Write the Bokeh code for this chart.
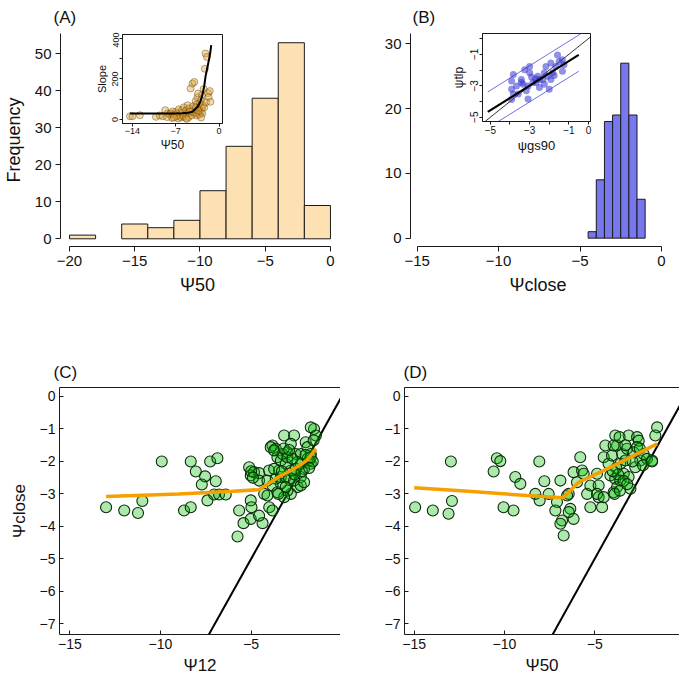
from bokeh.plotting import figure
from bokeh.layouts import column, row
from bokeh.models import FixedTicker, Range1d, LinearAxis
from bokeh.embed import file_html
from bokeh.resources import INLINE

FONT = "Liberation Sans"
MINUS = "\u2212"

# ---------------- data ----------------
# (A) histogram of psi50
a_bins = [-20, -18, -16, -14, -12, -10, -8, -6, -4, -2, 0]
a_counts = [1, 0, 4, 3, 5, 13, 25, 38, 53, 9]
a_xticks = [-20, -15, -10, -5, 0]
a_yticks = [0, 10, 20, 30, 40, 50]

# (B) histogram of psi_close
b_bins = [-4.5, -4.0, -3.5, -3.0, -2.5, -2.0, -1.5, -1.0]
b_counts = [1, 9, 18, 19, 27, 19, 6]
b_xticks = [-15, -10, -5, 0]
b_yticks = [0, 10, 20, 30]

# inset A: slope vs psi50
ia_x = [-14.4, -14.0, -12.8, -10.2, -9.6, -9.1, -8.7, -8.3, -8.0, -7.8, -7.5, -7.2,
        -7.0, -6.8, -6.5, -6.3, -6.0, -5.9, -5.7, -5.5, -5.3, -5.1, -5.0, -4.8,
        -4.6, -4.5, -4.3, -4.2, -4.0, -3.9, -3.8, -3.7, -3.6, -3.5, -3.4, -3.3,
        -3.2, -3.1, -3.0, -2.9, -2.8, -2.75, -2.6, -2.5, -2.4, -2.3, -2.2, -2.1,
        -1.95, -1.8, -1.7, -1.5, -1.4, -6.2, -5.8, -5.4, -4.9, -4.4, -4.1, -3.6,
        -3.2, -2.7, -2.9, -7.6, -8.4, -6.6, -5.2, -4.7, -3.8, -3.4, -6.9, -7.3]
ia_y = [16, 16, 21, 13, 20, 16, 46, 30, 25, 30, 40, 22,
        37, 28, 50, 20, 46, 35, 60, 25, 45, 70, 30, 55,
        153, 40, 177, 65, 185, 30, 90, 50, 75, 110, 128, 40,
        60, 80, 35, 95, 54, 120, 70, 150, 60, 250, 325, 85,
        308, 130, 111, 140, 87, 10, 15, 8, 12, 20, 35, 20,
        25, 30, 10, 8, 12, 5, 3, 40, 60, 45, 15, 10]
ia_fit_x = [-14.4, -12, -10, -8, -6, -5, -4.3, -3.5, -3.0, -2.7, -2.4, -2.2, -2.0, -1.8, -1.6, -1.4, -1.27]
ia_fit_y = [30, 30, 30, 30, 31, 33, 38, 62, 90, 120, 165, 210, 240, 270, 300, 335, 366]
ia_xticks = [-14, -7, 0]
ia_yticks = [0, 100, 200, 300, 400]
ia_ylabels = {0: "0", 100: "", 200: "200", 300: "", 400: "400"}

# inset B: psi_tlp vs psi_gs90
ib_x = [-3.83, -3.92, -3.92, -3.83, -3.92, -3.58, -3.25, -3.0, -3.0, -3.42, -3.42, -3.33,
        -3.08, -3.17, -3.08, -2.83, -2.58, -2.5, -2.67, -2.33, -2.25, -2.08, -2.17, -1.92,
        -1.83, -1.92, -2.0, -1.67, -1.5, -1.58, -1.33, -1.25, -1.33, -2.5, -3.67, -2.25,
        -2.9, -2.7, -1.75]
ib_y = [-2.29, -2.70, -3.22, -3.53, -3.88, -3.53, -1.98, -1.77, -2.18, -2.60, -2.80, -2.91,
        -3.01, -3.32, -3.84, -2.80, -2.39, -2.60, -2.80, -2.60, -2.18, -2.39, -1.77, -1.56,
        -2.18, -2.60, -3.22, -1.77, -1.46, -1.04, -1.35, -1.66, -2.08, -3.11, -3.01, -2.90,
        -2.45, -2.55, -2.35]
ib_fit_x = [-5.13, -0.5]
ib_fit_y = [-4.66, -1.04]
ib_one_x = [-6.0, 1.0]
ib_one_y = [-6.0, 1.0]
ib_up_x = [-5.13, -0.4]
ib_up_y = [-3.39, 0.3]
ib_lo_x = [-4.6, -0.5]
ib_lo_y = [-5.27, -2.08]
ib_xticks = [-5, -4, -3, -2, -1, 0]
ib_xlabels = {-5: MINUS + "5", -4: "", -3: MINUS + "3", -2: "", -1: MINUS + "1", 0: "0"}
ib_yticks = [-5, -4, -3, -2, -1, 0]
ib_ylabels = {-5: MINUS + "5", -4: "", -3: MINUS + "3", -2: "", -1: MINUS + "1", 0: ""}

# (C) psi_close vs psi12
c_x = [-13.0, -12.0, -11.24, -11.0, -9.93, -8.33, -8.05, -7.26, -6.86, -7.54, -7.72, -6.95,
       -8.70, -8.33, -7.41, -7.04, -6.77, -6.4,
       -5.75, -5.66, -5.42, -5.02, -5.02, -4.98, -4.37, -4.56, -4.28, -4.0, -3.82, -5.11,
       -5.02, -4.84, -4.56, -4.56, -4.1, -4.01, -5.0, -4.9,
       -3.82, -3.64, -3.55, -3.36, -3.27, -3.18, -2.63, -2.81, -3.0, -2.54, -2.26, -1.99,
       -1.89, -1.71, -1.53, -1.43, -1.8, -1.71, -1.89, -2.08, -2.26, -2.44, -2.81, -3.0,
       -3.36, -3.36, -3.64, -3.82, -3.55, -3.18, -3.09, -2.91, -2.63, -2.81, -2.54, -2.26,
       -2.44, -3.09, -3.0, -2.72, -3.46, -3.73, -3.09, -2.26, -2.08, -1.71, -1.71, -3.92,
       -3.73, -1.6, -2.0, -3.2, -2.9, -1.55, -4.1, -3.5, -2.2, -2.6, -3.3, -1.8]
c_y = [-3.41, -3.51, -3.59, -3.22, -2.0, -2.0, -2.31, -2.0, -1.9, -2.46, -2.71, -2.61,
       -3.51, -3.41, -3.2, -3.02, -3.02, -3.02,
       -4.31, -3.51, -3.9, -3.77, -3.2, -3.41, -3.9, -3.67, -3.0, -3.41, -3.51, -2.18,
       -2.43, -2.33, -2.36, -2.59, -2.59, -2.28, -2.3, -2.5,
       -1.51, -1.61, -1.87, -1.97, -1.77, -1.2, -1.2, -1.46, -1.72, -1.77, -1.77, -1.41,
       -1.56, -1.77, -1.0, -1.2, -1.97, -2.07, -1.92, -2.23, -2.48, -2.79, -3.0, -2.9,
       -2.69, -2.48, -2.53, -2.74, -2.95, -3.1, -2.48, -2.53, -2.59, -2.28, -2.23, -2.07,
       -2.02, -2.07, -1.87, -1.92, -2.28, -2.23, -2.79, -2.74, -2.64, -1.87, -0.95, -1.56,
       -1.66, -2.0, -1.8, -1.6, -1.65, -1.35, -3.05, -3.0, -2.3, -2.4, -2.3, -2.2]
c_fit_x = [-13.0, -9.0, -6.0, -4.56, -3.55, -2.8, -2.26, -1.9, -1.43]
c_fit_y = [-3.08, -3.0, -2.92, -2.87, -2.5, -2.28, -2.1, -1.95, -1.61]

# (D) psi_close vs psi50
d_x = [-14.95, -13.97, -13.1, -12.91, -12.97, -10.6, -10.42, -10.23, -10.05, -9.5, -9.4, -9.12,
       -8.29, -8.05, -8.07, -7.79, -7.55,
       -6.9, -7.09, -7.18, -6.81, -6.9, -6.72, -6.44, -6.35, -6.17, -6.44, -6.53, -5.8,
       -6.17, -5.98, -5.7, -5.61, -5.42, -5.24, -5.24, -4.78, -4.59, -4.78, -4.87, -4.87, -4.5,
       -4.41, -4.5, -4.23, -4.04, -3.86, -3.76, -4.13, -3.86, -3.76, -3.95, -3.48, -3.58,
       -3.3, -3.21, -3.12, -3.39, -3.12, -3.58, -3.02, -2.65, -2.56, -2.84, -2.47, -2.29,
       -2.75, -2.1, -1.82, -1.54, -1.64, -2.65, -3.95, -3.62, -2.32, -1.82, -3.8, -3.7,
       -3.4, -3.9, -3.6, -3.2, -4.0, -3.3, -2.9, -2.5]
d_y = [-3.41, -3.51, -3.61, -3.22, -2.0, -2.31, -1.9, -1.99, -3.41, -3.51, -2.48, -2.69,
       -3.0, -3.2, -2.0, -2.61, -3.0,
       -2.59, -3.25, -3.51, -3.82, -3.92, -4.28, -3.0, -3.46, -3.77, -3.56, -3.05, -1.87,
       -2.33, -2.64, -2.28, -2.38, -3.0, -2.74, -3.41, -3.1, -3.41, -2.74, -2.38, -3.0, -3.1,
       -1.51, -1.87, -2.07, -1.82, -1.2, -1.51, -2.43, -2.53, -2.79, -2.95, -1.77, -2.07,
       -1.97, -1.61, -1.2, -2.38, -2.48, -2.59, -2.84, -1.25, -1.36, -1.72, -1.97, -1.77,
       -2.18, -1.92, -1.97, -0.95, -1.2, -1.56, -1.51, -1.25, -2.12, -2.0, -2.2, -2.4,
       -2.6, -3.0, -2.9, -2.7, -2.3, -1.5, -2.0, -1.6]
d_fit_x = [-15.0, -12.0, -8.75, -6.76, -5.89, -4.31, -2.84, -1.54]
d_fit_y = [-2.81, -2.92, -3.05, -3.12, -2.64, -2.23, -1.82, -1.46]
one_x = [-8.0, 0.0]
one_y = [-8.0, 0.0]
cd_xticks = [-15, -10, -5, 0]
cd_yticks = [0, -1, -2, -3, -4, -5, -6, -7]


def fmt(v):
    return (MINUS + str(abs(v))) if v < 0 else str(v)


def style_axis(ax, ticks, size, label_size, font=FONT, tin=0, tout=5, labels=None):
    ax.ticker = FixedTicker(ticks=ticks)
    ax.major_label_overrides = labels if labels is not None else {t: fmt(t) for t in ticks}
    ax.axis_line_color = "#1a1a1a"
    ax.axis_line_width = 1
    ax.major_tick_line_color = "#1a1a1a"
    ax.major_tick_in = tin
    ax.major_tick_out = tout
    ax.minor_tick_line_color = None
    ax.major_label_text_font = font
    ax.major_label_text_font_size = size
    ax.major_label_text_color = "#111111"
    ax.axis_label_text_font = font
    ax.axis_label_text_font_style = "normal"
    ax.axis_label_text_font_size = label_size
    ax.axis_label_text_color = "#111111"


def base(width, height, xr, yr, l, r, t, b, **kw):
    p = figure(width=width, height=height, x_range=Range1d(*xr), y_range=Range1d(*yr),
               output_backend="svg", toolbar_location=None,
               min_border_left=l, min_border_right=r, min_border_top=t, min_border_bottom=b, **kw)
    p.grid.visible = False
    p.outline_line_color = None
    p.border_fill_color = None
    return p


def top_rule(p, ticks):
    ax = LinearAxis(ticker=FixedTicker(ticks=ticks),
                    major_label_overrides={t: "" for t in ticks},
                    major_label_text_font_size="1px", major_label_standoff=0,
                    major_tick_line_color=None, minor_tick_line_color=None,
                    major_tick_in=0, major_tick_out=0,
                    axis_line_color="#1a1a1a", axis_line_width=1)
    p.add_layout(ax, "above")


def set_title(p, text, offset, standoff):
    p.title.text = text
    p.title.align = "left"
    p.title.vertical_align = "top"
    p.title.offset = offset
    p.title.standoff = standoff
    p.title.text_font = FONT
    p.title.text_font_size = "17px"
    p.title.text_font_style = "normal"
    p.title.text_color = "#111111"


# ---------------- panel A ----------------
pA = base(340, 340, (-20.69, 0.31), (-2.08, 55.5), 60, 6, 33, 94)
a_left = [a_bins[i] for i in range(len(a_counts)) if a_counts[i] > 0]
a_right = [a_bins[i + 1] for i in range(len(a_counts)) if a_counts[i] > 0]
a_top = [c for c in a_counts if c > 0]
pA.quad(left=a_left, right=a_right, bottom=0, top=a_top,
        fill_color="#FDE1B3", line_color="#1a1a1a", line_width=1)
style_axis(pA.xaxis[0], a_xticks, "15px", "18px")
style_axis(pA.yaxis[0], a_yticks, "15px", "18px")
pA.xaxis[0].bounds = (-20, 0)
pA.yaxis[0].bounds = (0, 55.5)
pA.xaxis[0].axis_label = "Ψ50"
pA.yaxis[0].axis_label = "Frequency"
pA.xaxis[0].major_label_standoff = 4
pA.yaxis[0].major_label_standoff = 4
pA.xaxis[0].axis_label_standoff = 6
pA.yaxis[0].axis_label_standoff = 8
set_title(pA, "(A)", -7, 10)

# ---------------- panel B ----------------
pB = base(339, 340, (-15.41, 0.25), (-1.29, 31.58), 70, 14, 33, 94)
pB.quad(left=b_bins[:-1], right=b_bins[1:], bottom=0, top=b_counts,
        fill_color="#7777EE", line_color="#1a1a1a", line_width=1)
style_axis(pB.xaxis[0], b_xticks, "15px", "18px")
style_axis(pB.yaxis[0], b_yticks, "15px", "18px")
pB.xaxis[0].bounds = (-15, 0)
pB.yaxis[0].bounds = (0, 31.58)
pB.xaxis[0].axis_label = "Ψclose"
pB.xaxis[0].major_label_standoff = 4
pB.yaxis[0].major_label_standoff = 4
pB.xaxis[0].axis_label_standoff = 6
set_title(pB, "(B)", 2, 10)

# ---------------- panel C ----------------
pC = base(340, 347, (-15.57, -0.07), (-7.33, 0.277), 59, 0, 47, 53)
pC.line(one_x, one_y, line_color="black", line_width=2)
pC.scatter(c_x, c_y, size=11, fill_color="#00C000", fill_alpha=0.33,
           line_color="#0d2a0d", line_width=1.1)
pC.line(c_fit_x, c_fit_y, line_color="#F5A000", line_width=3.5)
style_axis(pC.xaxis[0], cd_xticks, "14px", "17px", tin=4, tout=0)
style_axis(pC.yaxis[0], cd_yticks, "14px", "17px", tin=4, tout=0)
pC.xaxis[0].axis_label = "Ψ12"
pC.yaxis[0].axis_label = "Ψclose"
pC.xaxis[0].major_label_standoff = 4
pC.yaxis[0].major_label_standoff = 4
pC.xaxis[0].axis_label_standoff = 4
pC.yaxis[0].axis_label_standoff = 8
top_rule(pC, cd_xticks)
set_title(pC, "(C)", -6, 8)

# ---------------- panel D ----------------
pD = base(339, 347, (-15.54, -0.30), (-7.33, 0.277), 64, 0, 47, 53)
pD.line(one_x, one_y, line_color="black", line_width=2)
pD.scatter(d_x, d_y, size=11, fill_color="#00C000", fill_alpha=0.33,
           line_color="#0d2a0d", line_width=1.1)
pD.line(d_fit_x, d_fit_y, line_color="#F5A000", line_width=3.5)
style_axis(pD.xaxis[0], cd_xticks, "14px", "17px", tin=4, tout=0)
style_axis(pD.yaxis[0], cd_yticks, "14px", "17px", tin=4, tout=0)
pD.xaxis[0].axis_label = "Ψ50"
pD.xaxis[0].major_label_standoff = 4
pD.yaxis[0].major_label_standoff = 4
pD.xaxis[0].axis_label_standoff = 4
top_rule(pD, cd_xticks)
set_title(pD, "(D)", -1, 8)

# ---------------- inset A ----------------
iA = base(136, 123, (-15.6, 0.55), (-19.7, 418.7), 32, 2, 2, 32,
          styles={"position": "absolute", "left": "88px", "top": "32px"})
iA.outline_line_color = "#1a1a1a"
iA.background_fill_color = "white"
iA.scatter(ia_x, ia_y, size=7, fill_color="#E0A030", fill_alpha=0.4,
           line_color="#6a4a10", line_alpha=0.6, line_width=0.8)
iA.line(ia_fit_x, ia_fit_y, line_color="black", line_width=2)
style_axis(iA.xaxis[0], ia_xticks, "9px", "12px", tin=0, tout=3)
style_axis(iA.yaxis[0], ia_yticks, "9px", "11px", tin=0, tout=3, labels=ia_ylabels)
iA.yaxis[0].major_label_orientation = "vertical"
iA.xaxis[0].axis_label = "Ψ50"
iA.yaxis[0].axis_label = "Slope"
iA.xaxis[0].major_label_standoff = 1
iA.yaxis[0].major_label_standoff = 1
iA.xaxis[0].axis_label_standoff = 1
iA.yaxis[0].axis_label_standoff = 2

# ---------------- inset B ----------------
iB = base(144, 124, (-5.4, 0.1), (-5.27, 0.32), 32, 2, 2, 32,
          styles={"position": "absolute", "left": "448px", "top": "31px"})
iB.outline_line_color = "#1a1a1a"
iB.background_fill_color = "white"
iB.line(ib_up_x, ib_up_y, line_color="#7070E0", line_width=1)
iB.line(ib_lo_x, ib_lo_y, line_color="#7070E0", line_width=1)
iB.line(ib_one_x, ib_one_y, line_color="black", line_width=0.8)
iB.scatter(ib_x, ib_y, size=7, fill_color="#3535D0", fill_alpha=0.55, line_color=None)
iB.line(ib_fit_x, ib_fit_y, line_color="black", line_width=2.2)
style_axis(iB.xaxis[0], ib_xticks, "10px", "13px", tin=0, tout=3, labels=ib_xlabels)
style_axis(iB.yaxis[0], ib_yticks, "10px", "12px", tin=0, tout=3, labels=ib_ylabels)
iB.yaxis[0].major_label_orientation = "vertical"
iB.xaxis[0].axis_label = "ψgs90"
iB.yaxis[0].axis_label = "ψtlp"
iB.xaxis[0].major_label_standoff = 1
iB.yaxis[0].major_label_standoff = 1
iB.xaxis[0].axis_label_standoff = 1
iB.yaxis[0].axis_label_standoff = 2

layout = column(row(pA, pB), row(pC, pD), iA, iB)
open("out.html", "w").write(file_html(layout, INLINE))
